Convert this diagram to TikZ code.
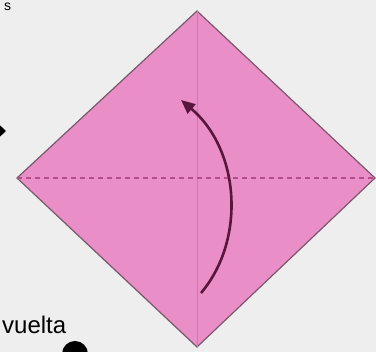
\documentclass[tikz,border=0pt]{standalone}
\usepackage{fontspec}
\setmainfont{Liberation Sans}
\usepackage{xcolor}
\usetikzlibrary{arrows.meta, calc}

\definecolor{paper}{RGB}{238,238,238}
\definecolor{origami}{RGB}{234,142,200}
\definecolor{creasecol}{RGB}{214,118,172}
\definecolor{dashcol}{RGB}{180,80,135}
\definecolor{edgecol}{RGB}{120,88,106}
\definecolor{foldcol}{RGB}{88,22,62}

\begin{document}
\begin{tikzpicture}[x=1pt, y=-1pt,
      sheet/.style={fill=origami, draw=edgecol, line width=1.2pt, line join=miter},
      crease/.style={draw=creasecol, line width=0.8pt},
      valley/.style={draw=dashcol, line width=1.1pt, dash pattern=on 5pt off 4pt},
      foldarrow/.style={draw=foldcol, line width=2.6pt, -{Triangle[length=14pt, width=12pt]}},
      lab/.style={font=\fontsize{24}{28}\selectfont, inner sep=0pt, text=black}]
    % frame of the picture
    \fill[paper] (0,0) rectangle (376,352);
    \useasboundingbox (0,0) rectangle (376,352);
    \clip (0,0) rectangle (376,352);
    % corners of the square
    \coordinate (top) at (197,11);
    \coordinate (right) at (375,178);
    \coordinate (bottom) at (197,347);
    \coordinate (left) at (17,178);
    \draw[sheet] (top) -- (right) -- (bottom) -- (left) -- cycle;
    \draw[crease] (top) -- (bottom);
    \draw[valley] (left) -- (right);
    % fold the bottom corner up
    \coordinate (from) at (201,293);
    \coordinate (to) at (181,100);
    \draw[foldarrow] (from) .. controls (246,240) and (240,150) .. (to);
    % marks at the edges
    \node[lab, anchor=base west] (turn) at (2,334) {vuelta};
    \node[lab, font=\fontsize{14}{16}\selectfont, anchor=north west] (mark) at (4,3) {s};
    \fill[black] (-10,116) -- (6,131) -- (-10,146) -- cycle;
    \fill[black] (62,354) arc[start angle=180, end angle=360, radius=13] -- cycle;
  \end{tikzpicture}
\end{document}
